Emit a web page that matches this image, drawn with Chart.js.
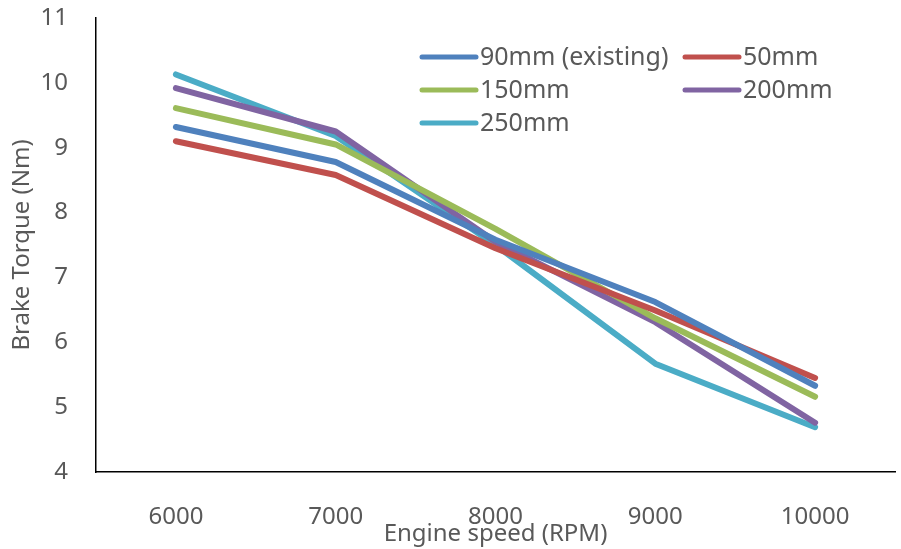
<!DOCTYPE html>
<html>
<head>
<meta charset="utf-8">
<script src="https://cdn.jsdelivr.net/npm/chart.js@4/dist/chart.umd.min.js"></script>
<style>
html,body{margin:0;padding:0;background:#fff;}
#wrap{width:901px;height:549px;}
</style>
</head>
<body>
<div id="wrap"><canvas id="c" width="901" height="549"></canvas></div>
<script>
const categories = ['6000', '7000', '8000', '9000', '10000'];
const seriesNames = ['90mm (existing)', '50mm', '150mm', '200mm', '250mm'];
const s90 = [9.32, 8.78, 7.58, 6.62, 5.33];
const s50 = [9.10, 8.58, 7.45, 6.49, 5.45];
const s150 = [9.61, 9.05, 7.75, 6.37, 5.16];
const s200 = [9.92, 9.25, 7.55, 6.31, 4.76];
const s250 = [10.13, 9.18, 7.50, 5.67, 4.69];
const yTicks = [4, 5, 6, 7, 8, 9, 10, 11];
const xTitle = 'Engine speed (RPM)';
const yTitle = 'Brake Torque (Nm)';

const colors = ['#4F81BD', '#C0504D', '#9BBB59', '#8064A2', '#4BACC6'];
const values = [s90, s50, s150, s200, s250];
const FONT = '"Noto Sans", "Open Sans", sans-serif';
const TXT = '#595959';

const legendPlugin = {
  id: 'gridLegend',
  afterDraw(chart) {
    const ctx = chart.ctx;
    const pos = [[422, 57], [685, 57], [422, 90], [685, 90], [422, 123]];
    ctx.save();
    ctx.font = '25px ' + FONT;
    ctx.textBaseline = 'middle';
    ctx.textAlign = 'left';
    chart.data.datasets.forEach((ds, i) => {
      const [x, y] = pos[i];
      ctx.strokeStyle = ds.borderColor;
      ctx.lineWidth = 5;
      ctx.lineCap = 'round';
      ctx.beginPath();
      ctx.moveTo(x, y);
      ctx.lineTo(x + 54, y);
      ctx.stroke();
      ctx.fillStyle = TXT;
      ctx.fillText(ds.label, x + 58, y + 1);
    });
    ctx.restore();
  }
};

new Chart(document.getElementById('c'), {
  type: 'line',
  data: {
    labels: categories,
    datasets: seriesNames.map((n, i) => ({
      label: n,
      data: values[i],
      borderColor: colors[i],
      backgroundColor: colors[i],
      borderWidth: 6,
      borderCapStyle: 'round',
      borderJoinStyle: 'round',
      pointRadius: 0,
      tension: 0,
      fill: false
    }))
  },
  options: {
    responsive: false,
    animation: false,
    devicePixelRatio: 1,
    layout: { padding: { left: 0, right: 6, top: 18, bottom: 0 } },
    plugins: { legend: { display: false }, tooltip: { enabled: false } },
    scales: {
      x: {
        offset: true,
        grid: { display: false, drawTicks: false },
        border: { display: true, color: '#000', width: 1.5 },
        ticks: { color: TXT, font: { family: FONT, size: 24 }, padding: 31, maxRotation: 0 },
        title: { display: true, text: xTitle, color: TXT, font: { family: FONT, size: 24 }, padding: { top: 0, bottom: 0 } },
        afterFit(scale) { scale.height = 77; scale.paddingLeft = 0; scale.paddingRight = 0; }
      },
      y: {
        min: 4, max: 11,
        afterBuildTicks(scale) { scale.ticks = yTicks.map(v => ({ value: v })); },
        grid: { display: false, drawTicks: false },
        border: { display: true, color: '#000', width: 1.5 },
        ticks: { color: TXT, font: { family: FONT, size: 24 }, padding: 28 },
        title: { display: true, text: yTitle, color: TXT, font: { family: FONT, size: 24 }, padding: { top: 8, bottom: 0 } },
        afterFit(scale) { scale.width = 96; scale.paddingTop = 0; scale.paddingBottom = 0; }
      }
    }
  },
  plugins: [legendPlugin]
});
</script>
</body>
</html>
